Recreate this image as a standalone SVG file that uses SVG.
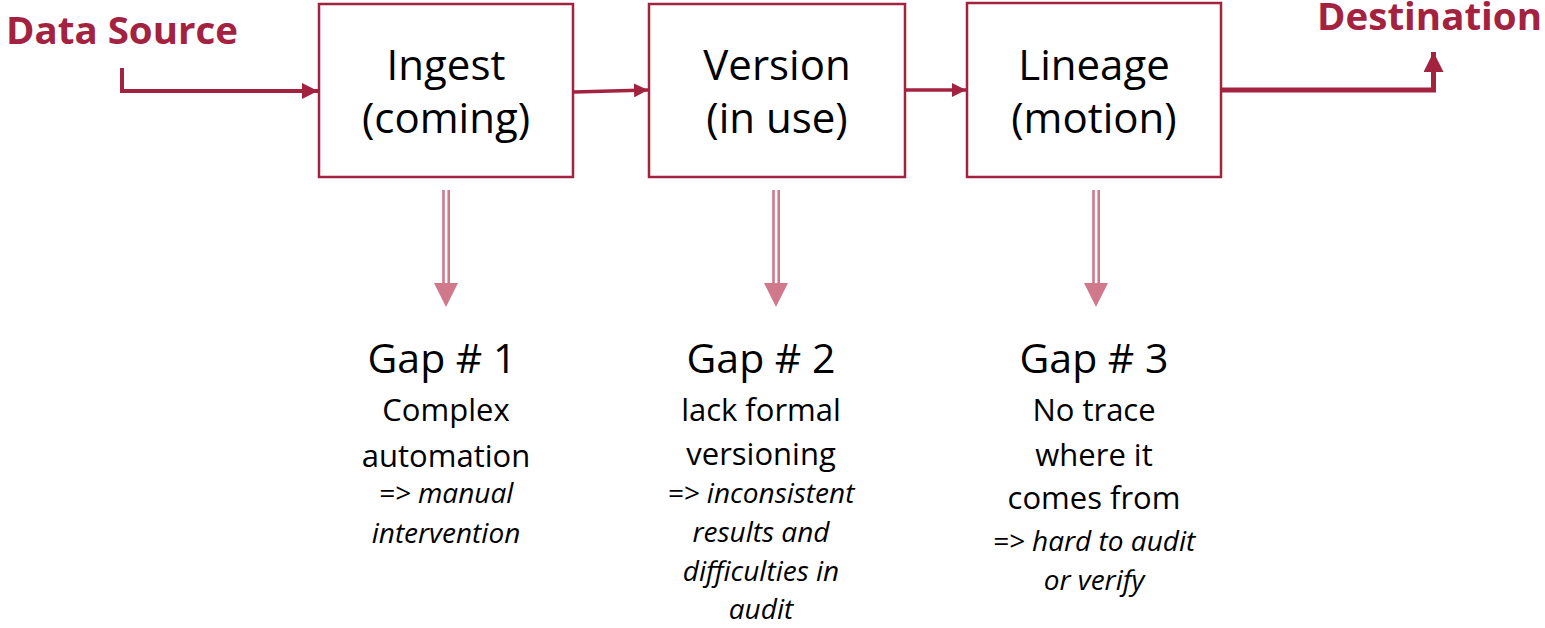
<svg xmlns="http://www.w3.org/2000/svg" width="1545" height="628" viewBox="0 0 1545 628">
<defs>
<style>
.box{fill:#fff;stroke:#a3223f;stroke-width:2.5}
.lbl{font-family:"Open Sans","Noto Sans",sans-serif;font-size:42px;fill:#000;text-anchor:middle}
.ttl{font-family:"Open Sans","Noto Sans",sans-serif;font-weight:bold;font-size:37px;fill:#a3223f}
.gap{font-family:"Open Sans","Noto Sans",sans-serif;font-size:41px;fill:#000;text-anchor:middle}
.body{font-family:"Open Sans","Noto Sans",sans-serif;font-size:31px;fill:#000;text-anchor:middle}
.it{font-family:"Open Sans","Noto Sans",sans-serif;font-size:28px;font-style:italic;fill:#000;text-anchor:middle}
.conn{fill:none;stroke:#a3223f;stroke-width:4}
.dl{stroke:#d0788c;stroke-width:2.6;fill:none}
.dh{fill:#d0788c}
</style>
<marker id="ah" viewBox="0 0 10 10" refX="10" refY="5" markerWidth="4" markerHeight="4" markerUnits="strokeWidth" orient="auto">
<path d="M0,0 L10,5 L0,10 Z" fill="#a3223f"/>
</marker>
</defs>
<rect width="1545" height="628" fill="#fff"/>
<text class="ttl" x="6" y="44" textLength="232" lengthAdjust="spacingAndGlyphs">Data Source</text>
<text class="ttl" x="1317" y="30" textLength="225" lengthAdjust="spacingAndGlyphs">Destination</text>
<g id="connectors">
<path class="conn" d="M122,68 V91 H318" marker-end="url(#ah)"/>
<path class="conn" d="M574,92 L648,90" marker-end="url(#ah)" style="stroke-width:3.5"/>
<path class="conn" d="M905,90 L966,90" marker-end="url(#ah)" style="stroke-width:3.5"/>
<path class="conn" d="M1222,90 H1433.5 V52" marker-end="url(#ah)" style="stroke-width:5"/>
<g id="down1"><path class="dl" d="M443.5,190 V284 M448.7,190 V284"/><path class="dh" d="M434,283 H458 L446,307 Z"/></g>
<g id="down2"><path class="dl" d="M773.5,190 V284 M778.7,190 V284"/><path class="dh" d="M764,283 H788 L776,307 Z"/></g>
<g id="down3"><path class="dl" d="M1093.5,190 V284 M1098.7,190 V284"/><path class="dh" d="M1084,283 H1108 L1096,307 Z"/></g>
</g>
<g id="ingest">
<rect class="box" x="319" y="4" width="254" height="173"/>
<text class="lbl" x="446" y="80">Ingest</text>
<text class="lbl" x="446" y="133">(coming)</text>
</g>
<g id="version">
<rect class="box" x="649" y="4" width="256" height="173"/>
<text class="lbl" x="777" y="80">Version</text>
<text class="lbl" x="777" y="133">(in use)</text>
</g>
<g id="lineage">
<rect class="box" x="967" y="3" width="254" height="174"/>
<text class="lbl" x="1094" y="80">Lineage</text>
<text class="lbl" x="1094" y="133">(motion)</text>
</g>
<g id="gap1">
<text class="gap" x="442" y="373">Gap # 1</text>
<text class="body" x="446" y="421">Complex</text>
<text class="body" x="446" y="467">automation</text>
<text class="it" x="446" y="503">=&gt; manual</text>
<text class="it" x="446" y="543">intervention</text>
</g>
<g id="gap2">
<text class="gap" x="761" y="373">Gap # 2</text>
<text class="body" x="761" y="421">lack formal</text>
<text class="body" x="761" y="465">versioning</text>
<text class="it" x="761" y="503">=&gt; inconsistent</text>
<text class="it" x="761" y="542">results and</text>
<text class="it" x="761" y="581">difficulties in</text>
<text class="it" x="761" y="619">audit</text>
</g>
<g id="gap3">
<text class="gap" x="1094" y="373">Gap # 3</text>
<text class="body" x="1094" y="421">No trace</text>
<text class="body" x="1094" y="466">where it</text>
<text class="body" x="1094" y="509">comes from</text>
<text class="it" x="1094" y="551">=&gt; hard to audit</text>
<text class="it" x="1094" y="590">or verify</text>
</g>
</svg>
